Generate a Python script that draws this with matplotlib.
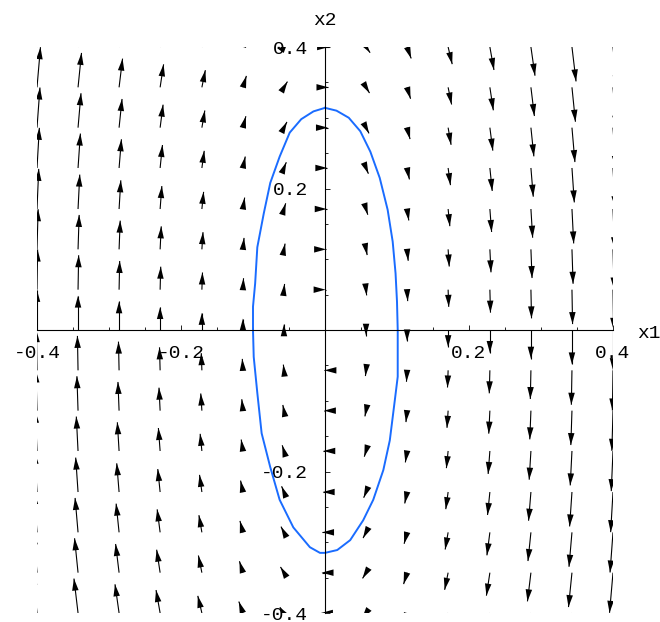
import matplotlib
matplotlib.use("Agg")

import matplotlib.pyplot as plt
import matplotlib.ticker as mticker
import numpy as np
from matplotlib.collections import LineCollection


# ─── Field samples (15 x 15 grid over [-0.4, 0.4]²) ─────────────────────

x1_grid = [-0.4, -0.343, -0.286, -0.229, -0.171, -0.114, -0.057, 0.0,
           0.057, 0.114, 0.171, 0.229, 0.286, 0.343, 0.4]
x2_grid = [-0.4, -0.343, -0.286, -0.229, -0.171, -0.114, -0.057, 0.0,
           0.057, 0.114, 0.171, 0.229, 0.286, 0.343, 0.4]

# x2' only changes across columns, x1' only across rows
x2dot_by_col = [0.40, 0.343, 0.286, 0.229, 0.171, 0.114, 0.057, 0.0,
                -0.057, -0.114, -0.171, -0.229, -0.286, -0.343, -0.40]
x1dot_by_row = [-0.040, -0.034, -0.029, -0.023, -0.017, -0.011, -0.006, 0.0,
                0.006, 0.011, 0.017, 0.023, 0.029, 0.034, 0.040]

# closed orbit, clockwise from the top
orbit_x1 = [0.0, 0.016, 0.033, 0.049, 0.063, 0.076, 0.087, 0.094, 0.098,
            0.100, 0.101, 0.101, 0.097, 0.090, 0.081, 0.067, 0.053, 0.035,
            0.017, 0.0, -0.007, -0.021, -0.044, -0.063, -0.076, -0.088,
            -0.094, -0.099, -0.100, -0.100, -0.097, -0.094, -0.085, -0.076,
            -0.063, -0.049, -0.033, -0.016, 0.0]
orbit_x2 = [0.314, 0.310, 0.300, 0.281, 0.252, 0.215, 0.170, 0.125, 0.080,
            0.040, 0.0, -0.066, -0.099, -0.156, -0.198, -0.240, -0.269, -0.297,
            -0.311, -0.315, -0.315, -0.307, -0.279, -0.240, -0.194, -0.146,
            -0.089, -0.038, 0.0, 0.033, 0.066, 0.117, 0.165, 0.208,
            0.245, 0.279, 0.298, 0.309, 0.314]

tick_major = [-0.4, -0.2, 0.2, 0.4]
tick_labels = ["-0.4", "-0.2", "0.2", "0.4"]

FONT = "Liberation Mono"
ORBIT_COLOR = "#1a6cff"
HEAD_LEN = 12.0   # px
HEAD_WID = 6.5    # px


fig = plt.figure(figsize=(6.6, 6.22), dpi=100, facecolor="white")
ax = fig.add_axes([37 / 660, 9 / 622, 576 / 660, 566 / 622])
ax.set_xlim(-0.4, 0.4)
ax.set_ylim(-0.4, 0.4)

# ─── Arrows: shaft from the grid point, fixed-size head at the tip ──────
X, Y = np.meshgrid(np.array(x1_grid), np.array(x2_grid))
U = np.tile(np.array(x1dot_by_row)[:, None], (1, len(x1_grid)))
V = np.tile(np.array(x2dot_by_col)[None, :], (len(x2_grid), 1))
mag = np.hypot(U, V)
keep = mag > 0  # zero vector at the origin is not drawn
X, Y, U, V, mag = X[keep], Y[keep], U[keep], V[keep], mag[keep]

spacing = x1_grid[1] - x1_grid[0]
k = spacing / mag.max()          # longest vector spans one grid step
tip_x = X + U * k
tip_y = Y + V * k

shafts = np.stack([np.column_stack([X, Y]), np.column_stack([tip_x, tip_y])], axis=1)
ax.add_collection(LineCollection(shafts, colors="black", linewidths=0.8, zorder=3))

ax.quiver(tip_x, tip_y, U / mag * HEAD_LEN, V / mag * HEAD_LEN,
          angles="xy", scale_units="dots", scale=1.0, pivot="tip",
          units="dots", width=1.0, headwidth=HEAD_WID, headlength=HEAD_LEN,
          headaxislength=HEAD_LEN, minshaft=0, minlength=0,
          color="black", zorder=3)

# ─── Orbit ──────────────────────────────────────────────────────────────
ax.plot(orbit_x1, orbit_x2, color=ORBIT_COLOR, lw=1.4, zorder=4)

# ─── Axes through the origin ────────────────────────────────────────────
for side in ("top", "right"):
    ax.spines[side].set_visible(False)
for side in ("left", "bottom"):
    ax.spines[side].set_position("zero")
    ax.spines[side].set_linewidth(0.8)
    ax.spines[side].set_zorder(5)

for axis in (ax.xaxis, ax.yaxis):
    axis.set_major_locator(mticker.FixedLocator(tick_major))
    axis.set_major_formatter(mticker.FixedFormatter(tick_labels))
    axis.set_minor_locator(mticker.MultipleLocator(0.05))

ax.tick_params(which="both", direction="in", width=0.6, color="black")
ax.tick_params(which="major", length=3.5)
ax.tick_params(which="minor", length=2.2)
ax.tick_params(axis="x", pad=11)
ax.tick_params(axis="y", pad=12)
for lab in ax.get_xticklabels() + ax.get_yticklabels():
    lab.set_fontfamily(FONT)
    lab.set_fontsize(14)

ax.annotate("x1", xy=(1.0, 0.0), xycoords=("axes fraction", "data"),
            xytext=(17, -6), textcoords="offset points",
            ha="left", va="baseline", fontsize=14, family=FONT,
            annotation_clip=False)
ax.annotate("x2", xy=(0.0, 1.0), xycoords=("data", "axes fraction"),
            xytext=(0, 16), textcoords="offset points",
            ha="center", va="baseline", fontsize=14, family=FONT,
            annotation_clip=False)

fig.savefig("out.png", dpi=100, facecolor="white")
